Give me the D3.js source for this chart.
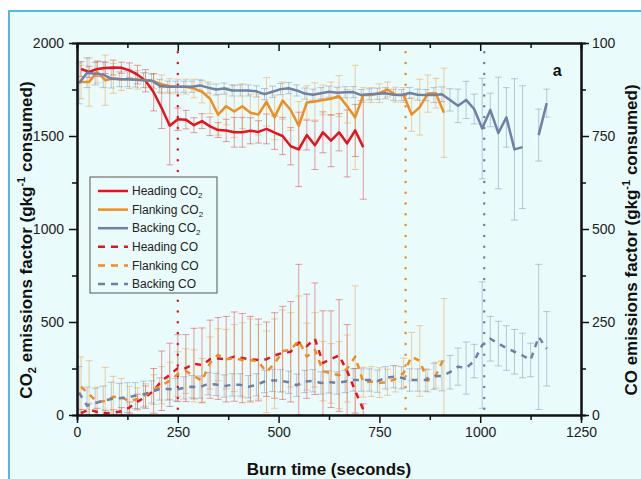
<!DOCTYPE html>
<html>
<head>
<meta charset="utf-8">
<script src="https://cdn.jsdelivr.net/npm/d3@7"></script>
<style>
  body { margin: 0; background: #fff; }
  text { font-family: "Liberation Sans", Arial, sans-serif; }
</style>
</head>
<body>
<div id="chart"></div>
<script>
// columns: burn time (s), CO2 EF, CO2 sd, CO EF, CO sd  (g kg-1 consumed)
const heading = [
  [10, 1860, 40, 5, 10], [30, 1845, 30, 15, 15], [50, 1860, 40, 8, 10], [70, 1866, 30, 5, 8],
  [90, 1868, 40, 6, 8], [110, 1867, 30, 10, 10], [130, 1853, 40, 20, 15], [150, 1830, 50, 36, 20],
  [170, 1797, 60, 48, 30], [190, 1735, 100, 65, 60], [210, 1650, 110, 92, 80], [230, 1555, 210, 108, 85],
  [250, 1590, 60, 126, 90], [270, 1588, 50, 126, 90], [290, 1558, 40, 138, 95], [310, 1580, 40, 134, 100],
  [330, 1552, 50, 150, 105], [350, 1532, 40, 152, 110], [370, 1530, 60, 150, 115], [390, 1520, 80, 157, 120],
  [410, 1520, 80, 153, 120], [430, 1528, 70, 150, 115], [450, 1522, 60, 148, 110], [470, 1538, 80, 150, 100],
  [490, 1518, 90, 160, 115], [510, 1500, 100, 167, 125], [530, 1445, 100, 170, 135], [550, 1428, 200, 195, 210],
  [570, 1505, 80, 185, 140], [590, 1450, 130, 205, 150], [610, 1520, 110, 140, 140], [630, 1475, 140, 150, 130],
  [650, 1520, 100, 160, 150], [670, 1460, 180, 118, 125], [690, 1530, 140, 65, 60], [710, 1440, 280, 15, 15]
];
const flanking = [
  [10, 1790, 90, 76, 80], [30, 1790, 130, 56, 90], [50, 1845, 60, 35, 40], [70, 1800, 135, 38, 90],
  [90, 1810, 80, 49, 55], [110, 1805, 60, 48, 50], [130, 1805, 50, 37, 40], [150, 1802, 50, 43, 30],
  [170, 1800, 40, 54, 30], [190, 1795, 40, 68, 40], [210, 1778, 50, 80, 50], [230, 1768, 40, 92, 50],
  [250, 1765, 40, 110, 60], [270, 1765, 40, 118, 60], [290, 1755, 50, 105, 70], [310, 1738, 60, 92, 60],
  [330, 1700, 80, 140, 70], [350, 1615, 110, 162, 70], [370, 1660, 100, 150, 80], [390, 1632, 140, 153, 90],
  [410, 1660, 120, 148, 100], [430, 1625, 100, 148, 110], [450, 1615, 110, 143, 100], [470, 1684, 130, 116, 110],
  [490, 1600, 120, 138, 120], [510, 1690, 100, 172, 110], [530, 1640, 110, 175, 100], [550, 1555, 130, 200, 120],
  [570, 1680, 90, 157, 90], [590, 1686, 100, 175, 100], [610, 1694, 80, 118, 80], [630, 1700, 90, 112, 80],
  [650, 1715, 110, 107, 90], [670, 1660, 90, 125, 90], [690, 1600, 280, 157, 190], [710, 1720, 40, 88, 40],
  [730, 1720, 40, 90, 40], [750, 1730, 50, 87, 40], [770, 1750, 40, 88, 35], [790, 1722, 40, 97, 35],
  [810, 1720, 40, 113, 40], [830, 1615, 90, 157, 65], [850, 1655, 150, 145, 95], [870, 1728, 100, 92, 30],
  [890, 1730, 80, 107, 35], [910, 1625, 240, 153, 160]
];
const backing = [
  [5, 1783, 110, 60, 70], [25, 1840, 80, 25, 50], [45, 1835, 60, 32, 40], [65, 1830, 70, 38, 40],
  [85, 1808, 50, 43, 45], [105, 1805, 40, 45, 40], [125, 1805, 40, 47, 40], [145, 1803, 40, 52, 35],
  [165, 1800, 40, 56, 35], [185, 1798, 35, 62, 30], [205, 1770, 35, 70, 30], [225, 1765, 30, 70, 30],
  [245, 1765, 30, 68, 30], [265, 1765, 30, 73, 30], [285, 1765, 30, 76, 30], [305, 1772, 30, 75, 30],
  [325, 1760, 30, 84, 30], [345, 1750, 30, 82, 30], [365, 1755, 30, 78, 30], [385, 1745, 30, 81, 30],
  [405, 1745, 30, 81, 30], [425, 1745, 30, 76, 30], [445, 1740, 30, 81, 30], [465, 1725, 30, 90, 30],
  [485, 1738, 30, 93, 30], [505, 1752, 30, 92, 30], [525, 1757, 30, 88, 30], [545, 1745, 30, 80, 30],
  [565, 1728, 30, 90, 30], [585, 1722, 30, 92, 30], [605, 1730, 30, 86, 30], [625, 1738, 30, 89, 30],
  [645, 1732, 30, 86, 30], [665, 1735, 30, 90, 30], [685, 1736, 30, 94, 30], [705, 1720, 30, 94, 30],
  [725, 1724, 30, 94, 30], [745, 1727, 30, 91, 30], [765, 1730, 30, 100, 30], [785, 1722, 30, 103, 30],
  [805, 1720, 30, 100, 30], [825, 1731, 30, 94, 30], [845, 1722, 30, 94, 30], [865, 1720, 30, 94, 30],
  [885, 1720, 40, 104, 35], [905, 1724, 40, 105, 40], [925, 1694, 60, 115, 45], [945, 1662, 90, 130, 50],
  [965, 1694, 100, 126, 70], [985, 1645, 80, 145, 45], [1005, 1540, 270, 188, 170], [1025, 1640, 90, 205, 60],
  [1045, 1516, 300, 192, 60], [1065, 1600, 160, 180, 60], [1085, 1428, 380, 170, 60], [1105, 1440, 330, 160, 60],
  [1125, null, null, 148, 45], [1145, 1505, 140, 210, 195], [1165, 1677, 75, 178, 100]
];

const seriesNames = ["Heading", "Flanking", "Backing"];
const seriesColors = ["#e3141e", "#ee8d22", "#6e80a6"];
const frontEndTimes = [250, 815, 1010];   // dotted markers, one per fire type

const co2Ticks = [0, 500, 1000, 1500, 2000];
const co2Minor = [250, 750, 1250, 1750];
const coTicks = [0, 250, 500, 750, 1000];
const coTickLabels = ["0", "250", "500", "750", "100"];
const coMinor = [125, 375, 625, 875];
const timeTicks = [0, 250, 500, 750, 1000, 1250];
const timeMinor = [125, 375, 625, 875, 1125];

const allSeries = [heading, flanking, backing];

// layout
const W = 641, H = 479;
const margin = { top: 43, left: 77 };
const width = 504, height = 372;

const root = d3.select("#chart").append("svg")
  .attr("width", W)
  .attr("height", H);

// light panel with blue frame
root.append("rect")
  .attr("x", 9).attr("y", 11)
  .attr("width", 660).attr("height", 500)
  .attr("fill", "#eafbfb")
  .attr("stroke", "#55b7e6")
  .attr("stroke-width", 2);

const svg = root.append("g")
  .attr("transform", `translate(${margin.left},${margin.top})`);

const x = d3.scaleLinear().domain([0, 1250]).range([0, width]);
const yCO2 = d3.scaleLinear().domain([0, 2000]).range([height, 0]);
const yCO = d3.scaleLinear().domain([0, 1000]).range([height, 0]);

// error bars
function errorBars(rows, col, errCol, y, color) {
  const g = svg.append("g")
    .attr("stroke", color)
    .attr("stroke-opacity", 0.42)
    .attr("stroke-width", 1)
    .attr("fill", "none");
  const pts = rows.filter(d => d[col] != null);
  const lo = d => y(Math.max(0, d[col] - d[errCol]));
  const hi = d => y(d[col] + d[errCol]);
  g.selectAll("line.v").data(pts).enter().append("line")
    .attr("x1", d => x(d[0])).attr("x2", d => x(d[0]))
    .attr("y1", lo).attr("y2", hi);
  g.selectAll("line.top").data(pts).enter().append("line")
    .attr("x1", d => x(d[0]) - 3.5).attr("x2", d => x(d[0]) + 3.5)
    .attr("y1", hi).attr("y2", hi);
  g.selectAll("line.bot").data(pts).enter().append("line")
    .attr("x1", d => x(d[0]) - 3.5).attr("x2", d => x(d[0]) + 3.5)
    .attr("y1", lo).attr("y2", lo);
}

allSeries.forEach((rows, i) => errorBars(rows, 3, 4, yCO, seriesColors[i]));
allSeries.forEach((rows, i) => errorBars(rows, 1, 2, yCO2, seriesColors[i]));

// dotted markers
svg.selectAll("line.marker")
  .data(frontEndTimes)
  .enter().append("line")
  .attr("x1", d => x(d)).attr("x2", d => x(d))
  .attr("y1", yCO2(1950)).attr("y2", yCO2(0))
  .attr("stroke", (d, i) => seriesColors[i])
  .attr("stroke-width", 2.5)
  .attr("stroke-linecap", "round")
  .attr("stroke-dasharray", "0,10.8");

// lines
function drawLine(rows, col, y, color, dash) {
  const line = d3.line()
    .defined(d => d[col] != null)
    .x(d => x(d[0]))
    .y(d => y(d[col]));
  svg.append("path")
    .datum(rows)
    .attr("d", line)
    .attr("fill", "none")
    .attr("stroke", color)
    .attr("stroke-width", 2.5)
    .attr("stroke-linejoin", "round")
    .attr("stroke-dasharray", dash);
}

allSeries.forEach((rows, i) => drawLine(rows, 3, yCO, seriesColors[i], "6,6"));
allSeries.forEach((rows, i) => drawLine(rows, 1, yCO2, seriesColors[i], null));

// axes
function styleAxis(g) {
  g.select(".domain").attr("stroke", "#111").attr("stroke-width", 2);
  g.selectAll(".tick line").attr("stroke", "#111").attr("stroke-width", 1.5);
  g.selectAll(".tick text")
    .style("font-size", "14px")
    .attr("fill", "#222");
}

const fmt = d3.format("d");

svg.append("g")
  .call(d3.axisLeft(yCO2).tickValues(co2Ticks).tickSize(8).tickSizeOuter(0).tickPadding(5).tickFormat(fmt))
  .call(styleAxis);
svg.append("g")
  .call(d3.axisLeft(yCO2).tickValues(co2Minor).tickSize(5).tickFormat(""))
  .call(styleAxis);

svg.append("g")
  .attr("transform", `translate(${width},0)`)
  .call(d3.axisRight(yCO).tickValues(coTicks).tickSize(8).tickSizeOuter(0).tickPadding(3)
    .tickFormat((d, i) => coTickLabels[i]))
  .call(styleAxis);
svg.append("g")
  .attr("transform", `translate(${width},0)`)
  .call(d3.axisRight(yCO).tickValues(coMinor).tickSize(5).tickFormat(""))
  .call(styleAxis);

svg.append("g")
  .attr("transform", `translate(0,${height})`)
  .call(d3.axisBottom(x).tickValues(timeTicks).tickSize(8).tickSizeOuter(0).tickPadding(4).tickFormat(fmt))
  .call(styleAxis);
svg.append("g")
  .attr("transform", `translate(0,${height})`)
  .call(d3.axisBottom(x).tickValues(timeMinor).tickSize(5).tickFormat(""))
  .call(styleAxis);

svg.append("g")
  .call(d3.axisTop(x).tickValues(timeTicks).tickSize(-8).tickSizeOuter(0).tickFormat(""))
  .call(styleAxis);
svg.append("g")
  .call(d3.axisTop(x).tickValues(timeMinor).tickSize(-5).tickFormat(""))
  .call(styleAxis);

// axis titles
const leftTitle = svg.append("text")
  .attr("transform", `translate(-45,${height / 2 + 11}) rotate(-90)`)
  .attr("text-anchor", "middle")
  .style("font-size", "17px")
  .style("font-weight", "bold")
  .attr("fill", "#111");
leftTitle.append("tspan").text("CO");
leftTitle.append("tspan").text("2").style("font-size", "11px").attr("dy", 4);
leftTitle.append("tspan").text(" emissions factor (gkg").attr("dy", -4);
leftTitle.append("tspan").text("-1").style("font-size", "11px").attr("dy", -7);
leftTitle.append("tspan").text(" consumed)").attr("dy", 7);

const rightTitle = svg.append("text")
  .attr("transform", `translate(${width + 56},${height / 2 + 11}) rotate(-90)`)
  .attr("text-anchor", "middle")
  .style("font-size", "17px")
  .style("font-weight", "bold")
  .attr("fill", "#111");
rightTitle.append("tspan").text("CO emissions factor (gkg");
rightTitle.append("tspan").text("-1").style("font-size", "11px").attr("dy", -7);
rightTitle.append("tspan").text(" consumed)").attr("dy", 7);

svg.append("text")
  .attr("x", width / 2)
  .attr("y", height + 60)
  .attr("text-anchor", "middle")
  .style("font-size", "17px")
  .style("font-weight", "bold")
  .attr("fill", "#111")
  .text("Burn time (seconds)");

svg.append("text")
  .attr("x", x(1180))
  .attr("y", yCO2(1825))
  .style("font-size", "16px")
  .style("font-weight", "bold")
  .attr("fill", "#111")
  .text("a");

// legend
const legendItems = [];
seriesNames.forEach((n, i) => legendItems.push({ name: n, gas: "CO2", color: seriesColors[i], dash: null }));
seriesNames.forEach((n, i) => legendItems.push({ name: n, gas: "CO", color: seriesColors[i], dash: "7,6" }));

const legend = svg.append("g").attr("transform", "translate(13,134)");
legend.append("rect")
  .attr("width", 127).attr("height", 116)
  .attr("fill", "#eafbfb")
  .attr("stroke", "#555")
  .attr("stroke-width", 1);

const rows = legend.selectAll("g.item")
  .data(legendItems)
  .enter().append("g")
  .attr("transform", (d, i) => `translate(0,${14 + i * 18.6})`);

rows.append("line")
  .attr("x1", 8).attr("x2", 38)
  .attr("stroke", d => d.color)
  .attr("stroke-width", 2.5)
  .attr("stroke-dasharray", d => d.dash);

const labels = rows.append("text")
  .attr("x", 42)
  .attr("dy", "0.35em")
  .style("font-size", "12px")
  .attr("fill", "#222");
labels.append("tspan").text(d => d.name + " CO");
labels.filter(d => d.gas === "CO2").append("tspan")
  .text("2").style("font-size", "8px").attr("dy", 3);
</script>
</body>
</html>
